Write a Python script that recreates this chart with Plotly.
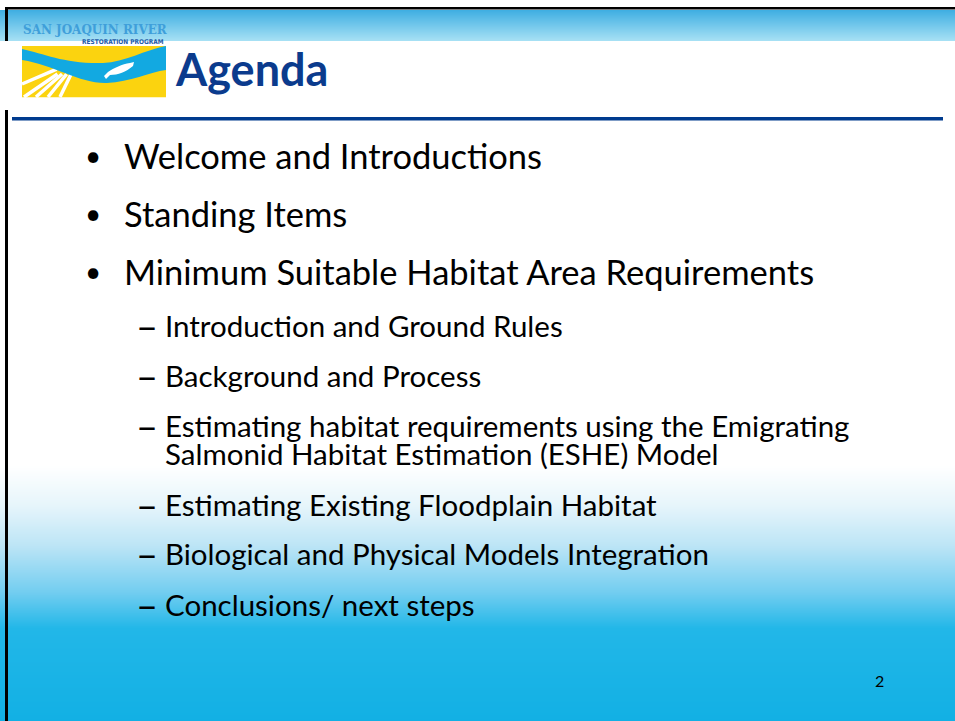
import numpy as np
import plotly.graph_objects as go

# ---- slide content ----
title = "Agenda"
bullets = ["Welcome and Introductions", "Standing Items",
           "Minimum Suitable Habitat Area Requirements"]
bullet_y = [155, 213, 271]
subitems = ["Introduction and Ground Rules", "Background and Process",
            "Estimating habitat requirements using the Emigrating<br>Salmonid Habitat Estimation (ESHE) Model",
            "Estimating Existing Floodplain Habitat",
            "Biological and Physical Models Integration",
            "Conclusions/ next steps"]
sub_y = [325, 375, 425, 504, 553, 604]
line_gap = 28
page_number = "2"

W, H = 955, 721
FONT = "Lato, 'Open Sans', sans-serif"

# background gradient via heatmap (value = vertical pixel position)
ys = np.arange(0, H + 1, 1.0)
z = np.repeat(ys[:, None], 2, axis=1)
def s(v):
    return v / H
colorscale = [
    [0.0, "#ffffff"], [s(9), "#ffffff"], [s(9.5), "#3eaee2"],
    [s(40), "#a6e0f4"], [s(40.6), "#ffffff"],
    [s(465), "#ffffff"], [s(505), "#e6f5fb"], [s(545), "#bde5f6"],
    [s(592), "#72cdf0"], [s(628), "#22b7e8"], [1.0, "#12b0e4"],
]
fig = go.Figure(go.Heatmap(x=[0, W], y=ys, z=z, colorscale=colorscale,
                           zmin=0, zmax=H, zsmooth="best", showscale=False,
                           hoverinfo="skip"))

shapes = []
# border lines
shapes.append(dict(type="rect", x0=5, x1=8, y0=7, y1=H, fillcolor="black", line_width=0))
shapes.append(dict(type="rect", x0=5, x1=W, y0=7, y1=9.5, fillcolor="black", line_width=0))
# blue rule
shapes.append(dict(type="rect", x0=12, x1=943, y0=117, y1=120.5, fillcolor="#003b8e", line_width=0))
# logo: yellow box
shapes.append(dict(type="rect", x0=22, x1=166, y0=46, y1=97.5, fillcolor="#fbd30f", line_width=0))
# white field stripes (converging towards the river)
vp = (78, 60)
for bx, by in [(22, 84), (24, 97), (36, 97), (48, 97), (60, 97)]:
    t = 0.62
    shapes.append(dict(type="line", x0=bx, y0=by,
                       x1=bx + (vp[0] - bx) * t, y1=by + (vp[1] - by) * t,
                       line=dict(color="white", width=3.5)))
shapes.append(dict(type="rect", x0=0, x1=22, y0=41, y1=110, fillcolor="white", line_width=0))
shapes.append(dict(type="rect", x0=22, x1=166, y0=97.5, y1=110, fillcolor="white", line_width=0))
# river
shapes.append(dict(type="path",
                   path="M 22,49 C 45,54 65,64 103,63 C 125,62 145,50 166,46 L 166,70 "
                        "C 150,72 130,82 107,83 C 80,84 55,65 22,60 Z",
                   fillcolor="#12a9e1", line_width=0))
# fish
shapes.append(dict(type="path",
                   path="M 104,76 L 108,72 C 114,68 122,64 130,63 L 134,62 L 133,66 "
                        "C 126,72 118,75 110,75 L 106,79 Z",
                   fillcolor="white", line_width=0))

annotations = []
annotations.append(dict(x=21, y=29, text="<b>SAN JOAQUIN RIVER</b>", xanchor="left", yanchor="middle",
                        showarrow=False,
                        font=dict(family="'DejaVu Serif Condensed', 'DejaVu Serif', serif",
                                  size=13.3, color="#3f9fda")))
annotations.append(dict(x=166, y=41.5, text="<b>RESTORATION PROGRAM</b>", xanchor="right", yanchor="middle",
                        showarrow=False,
                        font=dict(family="'DejaVu Sans Condensed', sans-serif", size=6.5, color="#1e5aa8")))
annotations.append(dict(x=173, y=69, text="<b>" + title + "</b>", xanchor="left", yanchor="middle",
                        showarrow=False, font=dict(family=FONT, size=45, color="#0b3b8d")))

for t, y in zip(bullets, bullet_y):
    annotations.append(dict(x=83, y=y, text="•", xanchor="left", yanchor="middle", showarrow=False,
                            font=dict(family=FONT, size=28, color="black")))
    annotations.append(dict(x=122, y=y, text=t, xanchor="left", yanchor="middle", showarrow=False,
                            font=dict(family=FONT, size=34.5, color="black")))
for t, y in zip(subitems, sub_y):
    annotations.append(dict(x=134, y=y, text="–", xanchor="left", yanchor="middle", showarrow=False,
                            font=dict(family=FONT, size=38, color="black")))
    for i, line in enumerate(t.split("<br>")):
        annotations.append(dict(x=163, y=y + i * line_gap, text=line, xanchor="left", yanchor="middle",
                                showarrow=False, align="left",
                                font=dict(family=FONT, size=29.5, color="black")))

annotations.append(dict(x=879, y=680, text=page_number, xanchor="center", yanchor="middle",
                        showarrow=False, font=dict(family=FONT, size=16, color="black")))

fig.update_layout(
    width=W, height=H, margin=dict(l=0, r=0, t=0, b=0),
    paper_bgcolor="white", plot_bgcolor="white",
    xaxis=dict(range=[0, W], visible=False, fixedrange=True),
    yaxis=dict(range=[H, 0], visible=False, fixedrange=True),
    shapes=shapes, annotations=annotations, showlegend=False,
)
fig.write_html("out.html", config={"displayModeBar": False},
               post_script="document.body.style.margin='0px';document.body.style.overflow='hidden';")
